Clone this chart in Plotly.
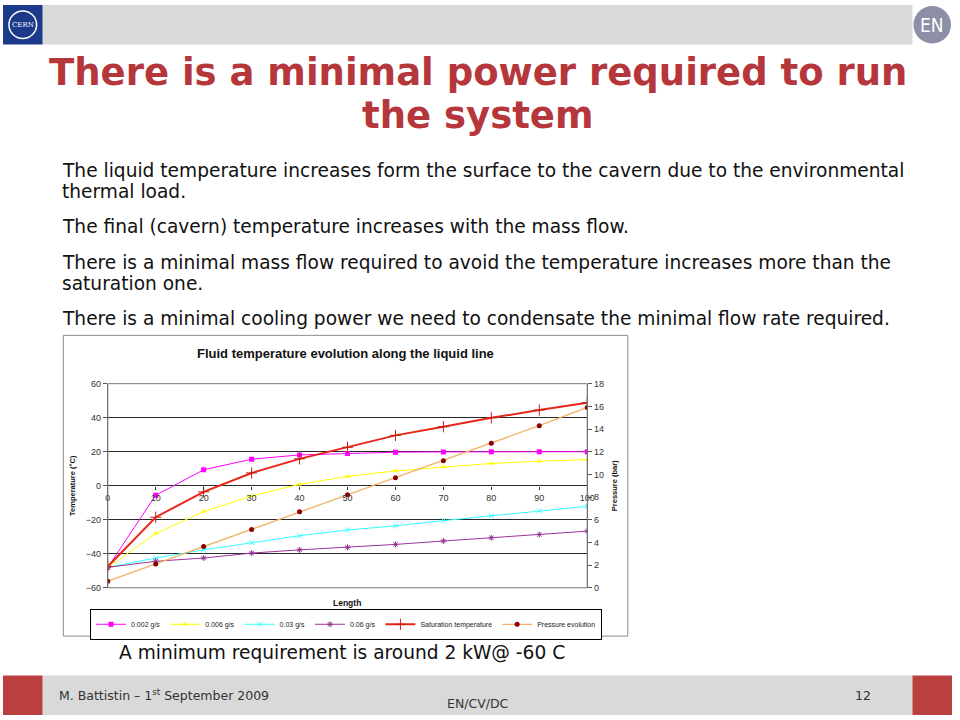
import plotly.graph_objects as go

# ---------------- data ----------------
length = [0, 10, 20, 30, 40, 50, 60, 70, 80, 90, 100]
t_0002 = [-48, -5.6, 9.4, 15.6, 18.1, 19.0, 19.7, 19.9, 20.0, 20.0, 20.0]
t_0006 = [-48, -28.1, -15.2, -6.0, 0.8, 5.5, 8.7, 11.0, 13.1, 14.4, 15.4]
t_003 = [-48, -42.5, -37.7, -33.5, -29.4, -26.0, -23.6, -20.5, -17.6, -14.7, -12.1]
t_006 = [-48, -44.4, -42.5, -39.6, -37.7, -36.2, -34.5, -32.5, -30.6, -28.7, -26.7]
t_sat = [-47.5, -18.5, -3.6, 7.5, 15.8, 22.6, 29.6, 34.7, 39.9, 44.5, 48.8]
p_evo = [0.58, 2.1, 3.65, 5.15, 6.7, 8.2, 9.7, 11.2, 12.75, 14.3, 15.9]

series_names = ["0.002 g/s", "0.006 g/s", "0.03 g/s", "0.06 g/s",
                "Saturation temperature", "Pressure evolution"]

title_lines = ["There is a minimal power required to run", "the system"]
body_lines = [
    "The liquid temperature increases form the surface to the cavern due to the environmental",
    "thermal load.",
    "The final (cavern) temperature increases with the mass flow.",
    "There is a minimal mass flow required to avoid the temperature increases more than the",
    "saturation one.",
    "There is a minimal cooling power we need to condensate the minimal flow rate required.",
]
chart_title = "Fluid temperature evolution along the liquid line"
note = "A minimum requirement is around 2 kW@ -60 C"
footer_left = "M. Battistin – 1<sup>st</sup> September 2009"
footer_mid = "EN/CV/DC"
footer_right = "12"

# ---------------- layout helpers ----------------
W, H = 960, 720
def px(x):
    return x / W
def py(y):
    return 1 - y / H

X0, X1 = 106, 591
Y0, Y1 = 384, 591
ARIAL = "Liberation Sans, Arial"
VERD = "DejaVu Sans, Verdana"

fig = go.Figure()

fig.add_trace(go.Scatter(x=length, y=t_0002, name=series_names[0], mode="lines+markers",
                         line=dict(color="#FF00FF", width=1),
                         marker=dict(symbol="square", size=5, color="#FF00FF")))
fig.add_trace(go.Scatter(x=length, y=t_0006, name=series_names[1], mode="lines+markers",
                         line=dict(color="#FFFF00", width=1),
                         marker=dict(symbol="triangle-up", size=5, color="#FFFF00")))
fig.add_trace(go.Scatter(x=length, y=t_003, name=series_names[2], mode="lines+markers",
                         line=dict(color="#33FFFF", width=1),
                         marker=dict(symbol="x-thin", size=5, color="#33FFFF",
                                     line=dict(color="#33FFFF", width=1))))
fig.add_trace(go.Scatter(x=length, y=t_006, name=series_names[3], mode="lines+markers",
                         line=dict(color="#993399", width=1),
                         marker=dict(symbol="asterisk", size=5, color="#993399",
                                     line=dict(color="#993399", width=1))))
fig.add_trace(go.Scatter(x=length, y=t_sat, name=series_names[4], mode="lines+markers",
                         line=dict(color="#E8261A", width=2),
                         marker=dict(symbol="cross-thin", size=8, color="#E8261A",
                                     line=dict(color="#C02010", width=1))))
fig.add_trace(go.Scatter(x=length, y=p_evo, name=series_names[5], mode="lines+markers",
                         yaxis="y2",
                         line=dict(color="#F2B266", width=1.3),
                         marker=dict(symbol="circle", size=5, color="#8B0000")))

tickfont = dict(family=ARIAL, size=9, color="#333333")

fig.update_layout(
    width=W, height=H,
    margin=dict(l=0, r=0, t=0, b=0),
    paper_bgcolor="white",
    plot_bgcolor="#C0C0C0",
    showlegend=True,
    xaxis=dict(domain=[px(X0), px(X1)], range=[0, 100], tick0=0, dtick=10,
               anchor="free", position=(py(Y0) + py(Y1)) / 2,
               showgrid=False, zeroline=False, showline=False,
               ticks="outside", ticklen=3, tickcolor="#333",
               tickfont=tickfont),
    yaxis=dict(domain=[py(Y1), py(Y0)], range=[-60, 60], tick0=-60, dtick=20,
               showgrid=True, gridcolor="#2a2a2a", gridwidth=1.2,
               zeroline=True, zerolinecolor="#2a2a2a", zerolinewidth=1.2,
               showline=True, linecolor="#666", linewidth=1,
               ticks="outside", ticklen=4, tickcolor="#555",
               tickfont=tickfont,
               title=dict(text="<b>Temperature (°C)</b>", standoff=9,
                          font=dict(family=ARIAL, size=7.5, color="#111"))),
    yaxis2=dict(overlaying="y", side="right", anchor="x", range=[0, 18], tick0=0, dtick=2,
                showgrid=False, zeroline=False,
                showline=True, linecolor="#666", linewidth=1,
                ticks="outside", ticklen=4, tickcolor="#555",
                tickfont=tickfont,
                title=dict(text="<b>Pressure (bar)</b>", standoff=8,
                           font=dict(family=ARIAL, size=7.5, color="#111"))),
    legend=dict(orientation="h", x=px(347), y=py(628), xanchor="center", yanchor="middle",
                bgcolor="white", bordercolor="#000", borderwidth=1,
                font=dict(family=ARIAL, size=7, color="#222"),
                itemwidth=30, tracegroupgap=0),
)

shapes = [
    # top bar
    dict(type="rect", xref="paper", yref="paper", x0=px(40), x1=px(920), y0=py(40), y1=py(0),
         fillcolor="#D9D9D9", line=dict(width=0), layer="below"),
    # CERN logo square
    dict(type="rect", xref="paper", yref="paper", x0=px(0), x1=px(40), y0=py(40), y1=py(0),
         fillcolor="#1B3A8A", line=dict(width=0), layer="below"),
    dict(type="circle", xref="paper", yref="paper", x0=px(6), x1=px(34), y0=py(34), y1=py(6),
         fillcolor="rgba(0,0,0,0)", line=dict(width=1.5, color="white")),
    # EN logo
    dict(type="circle", xref="paper", yref="paper", x0=px(921), x1=px(959), y0=py(39), y1=py(1),
         fillcolor="#8C8FA6", line=dict(width=0), layer="below"),
    # footer
    dict(type="rect", xref="paper", yref="paper", x0=px(40), x1=px(920), y0=py(720), y1=py(680),
         fillcolor="#D9D9D9", line=dict(width=0), layer="below"),
    dict(type="rect", xref="paper", yref="paper", x0=px(0), x1=px(40), y0=py(720), y1=py(680),
         fillcolor="#BA3F3F", line=dict(width=0), layer="below"),
    dict(type="rect", xref="paper", yref="paper", x0=px(920), x1=px(960), y0=py(720), y1=py(680),
         fillcolor="#BA3F3F", line=dict(width=0), layer="below"),
    # chart box
    dict(type="rect", xref="paper", yref="paper", x0=px(61), x1=px(632), y0=py(640), y1=py(335),
         fillcolor="white", line=dict(width=1, color="#8C8C8C"), layer="below"),
    # plot border
    dict(type="rect", xref="paper", yref="paper", x0=px(X0), x1=px(X1), y0=py(Y1), y1=py(Y0),
         fillcolor="rgba(0,0,0,0)", line=dict(width=1, color="#777")),
]
fig.update_layout(shapes=shapes)

body_font = dict(family=VERD, size=18.6, color="#111111")
foot_font = dict(family=VERD, size=12.5, color="#333")
title_font = dict(family=VERD, size=37, color="#B5373B")
annotations = [
    dict(text="<b>" + title_lines[0] + "</b>", x=px(480), y=py(68), xanchor="center", yanchor="middle",
         font=title_font, showarrow=False, xref="paper", yref="paper"),
    dict(text="<b>" + title_lines[1] + "</b>", x=px(480), y=py(112), xanchor="center", yanchor="middle",
         font=title_font, showarrow=False, xref="paper", yref="paper"),
    dict(text="CERN", x=px(20), y=py(20), xanchor="center", yanchor="middle",
         font=dict(family="DejaVu Serif", size=7, color="white"),
         showarrow=False, xref="paper", yref="paper"),
    dict(text="EN", x=px(940), y=py(20), xanchor="center", yanchor="middle",
         font=dict(family="DejaVu Sans Condensed, DejaVu Sans", size=19, color="white"),
         showarrow=False, xref="paper", yref="paper"),
    dict(text="<b>" + chart_title + "</b>", x=px(346), y=py(353), xanchor="center", yanchor="middle",
         font=dict(family=ARIAL, size=13, color="#111"),
         showarrow=False, xref="paper", yref="paper"),
    dict(text="<b>Length</b>", x=px(348), y=py(606), xanchor="center", yanchor="middle",
         font=dict(family=ARIAL, size=8.5, color="#111"),
         showarrow=False, xref="paper", yref="paper"),
    dict(text=note, x=px(115), y=py(657), xanchor="left", yanchor="middle",
         font=body_font, showarrow=False, xref="paper", yref="paper"),
    dict(text=footer_left, x=px(55), y=py(700), xanchor="left", yanchor="middle",
         font=foot_font, showarrow=False, xref="paper", yref="paper"),
    dict(text=footer_mid, x=px(480), y=py(708), xanchor="center", yanchor="middle",
         font=foot_font, showarrow=False, xref="paper", yref="paper"),
    dict(text=footer_right, x=px(870), y=py(700), xanchor="center", yanchor="middle",
         font=foot_font, showarrow=False, xref="paper", yref="paper"),
]

line_y = [168, 189, 225, 261, 282, 318]
for txt, yy in zip(body_lines, line_y):
    annotations.append(dict(text=txt, x=px(58), y=py(yy), xanchor="left", yanchor="middle",
                            font=body_font, showarrow=False, xref="paper", yref="paper"))
fig.update_layout(annotations=annotations)

fig.write_html("out.html", config={"displayModeBar": False},
               post_script="document.body.style.margin='0';document.body.style.overflow='hidden';")
